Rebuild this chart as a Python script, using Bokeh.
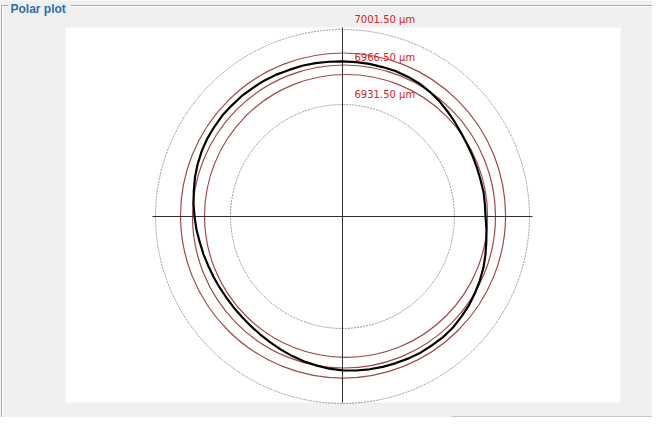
import numpy as np
from bokeh.plotting import figure
from bokeh.models import Range1d
from bokeh.core.properties import value
from bokeh.embed import file_html
from bokeh.resources import INLINE

# ---------------- data (radii in µm) ----------------
ring_values = [6931.50, 6966.50, 7001.50]
ring_labels = ["6931.50 µm", "6966.50 µm", "7001.50 µm"]
dotted_rings = [6931.50, 7001.50]

profile_angles_deg = list(range(0, 360, 5))
profile_radii = [
    6960.5, 6960.4, 6960.6, 6960.3, 6960.5, 6960.9, 6961.4, 6962.4, 6963.9, 6965.6,
    6967.6, 6969.1, 6970.4, 6971.0, 6971.5, 6971.4, 6971.7, 6971.6, 6971.7, 6972.0,
    6972.4, 6972.7, 6972.6, 6973.1, 6973.4, 6973.3, 6973.6, 6973.4, 6973.5, 6973.0,
    6972.7, 6971.9, 6970.8, 6969.5, 6967.9, 6966.6, 6965.1, 6963.9, 6962.4, 6961.5,
    6960.5, 6959.9, 6959.5, 6959.2, 6959.4, 6959.6, 6960.3, 6961.2, 6962.4, 6963.8,
    6965.4, 6966.9, 6968.1, 6969.6, 6970.7, 6971.3, 6971.8, 6972.3, 6972.6, 6973.1,
    6973.5, 6973.4, 6973.6, 6973.2, 6972.1, 6971.2, 6969.8, 6968.4, 6967.0, 6965.1,
    6963.3, 6961.9,
]

fit_circle_radii = [6959.1, 6968.4, 6978.7]
fit_circle_cx = [3.3, 1.4, 0.5]
fit_circle_cy = [0.5, 0.0, 0.9]

R0 = 6827.0  # radius shown at the pole of the polar plot

# ---------------- geometry ----------------
W, H = 652, 417
k = 75.0 / 70.0          # px per µm of radius
cx_px, cy_px = 342, 216  # pole position in figure pixels (from top-left)


def sx(px):
    return (px - cx_px) / k


def sy(py):
    return (cy_px - py) / k


p = figure(width=W, height=H, output_backend="svg", toolbar_location=None,
           x_range=Range1d(sx(0), sx(W)), y_range=Range1d(sy(H), sy(0)),
           x_axis_location=None, y_axis_location=None, min_border=0,
           background_fill_color="#f0f0f0", border_fill_color="#f0f0f0",
           outline_line_color=None)
p.grid.visible = False

# group box frame
gb = "#a8a8a8"
p.segment(x0=[sx(1), sx(70), sx(1)], y0=[sy(5), sy(5), sy(5)],
          x1=[sx(8), sx(W), sx(1)], y1=[sy(5), sy(5), sy(H)],
          line_color=gb, line_width=1)
p.segment(x0=[sx(2), sx(70), sx(2)], y0=[sy(6), sy(6), sy(6)],
          x1=[sx(8), sx(W), sx(2)], y1=[sy(6), sy(6), sy(H)],
          line_color="white", line_width=1)
p.text(x=[sx(10)], y=[sy(8)], text=["Polar plot"], text_font=value("Liberation Sans"),
       text_font_style="bold", text_font_size="12px", text_color="#2f6cab",
       text_baseline="middle", text_align="left")

# plot area
p.quad(left=[sx(65)], right=[sx(620)], top=[sy(27)], bottom=[sy(402)],
       fill_color="white", line_color=None)

# angle box at the bottom (mostly cut off)
p.quad(left=[sx(451)], right=[sx(W)], top=[sy(416)], bottom=[sy(H)],
       fill_color="#fafafa", line_color="#c8c8c8")

# dotted reference rings
p.circle(x=[0] * len(dotted_rings), y=[0] * len(dotted_rings),
         radius=[r - R0 for r in dotted_rings],
         fill_color=None, line_color="#9a9a9a", line_width=1, line_dash="2 1")

# fitted circles
p.circle(x=fit_circle_cx, y=fit_circle_cy,
         radius=[r - R0 for r in fit_circle_radii],
         fill_color=None, line_color="#a04848", line_width=1.2)

# crosshair
half = 190 / k
p.segment(x0=[-half, 0], y0=[0, sy(27)], x1=[half, 0], y1=[0, sy(402)],
          line_color="#303030", line_width=1)

# measured profile
th = np.radians(np.array(profile_angles_deg + [profile_angles_deg[0]], dtype=float))
rr = np.array(profile_radii + [profile_radii[0]]) - R0
p.line(x=rr * np.cos(th), y=rr * np.sin(th), line_color="black",
       line_width=2.2, line_join="round")

# ring labels
p.text(x=[12 / k] * len(ring_values), y=[r - R0 for r in ring_values], text=ring_labels,
       text_font=value("DejaVu Sans"), text_font_size="10px", text_color="#d42424",
       text_baseline="middle", text_align="left", y_offset=-10)

open("out.html", "w").write(file_html(p, INLINE))
